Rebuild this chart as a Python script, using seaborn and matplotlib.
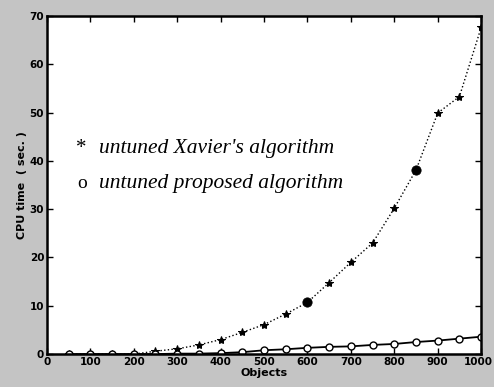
import numpy as np
import pandas as pd
import matplotlib.pyplot as plt
import matplotlib.transforms as mtransforms
import seaborn as sns

# data
objects = [50, 100, 150, 200, 250, 300, 350, 400, 450, 500,
           550, 600, 650, 700, 750, 800, 850, 900, 950, 1000]
xavier = [0.0, 0.0, 0.0, 0.0, 0.6, 1.1, 1.9, 3.0, 4.5, 6.1,
          8.3, 10.7, 14.8, 19.0, 23.0, 30.2, 38.1, 49.9, 53.3, 67.6]
proposed = [0.0, 0.0, 0.0, 0.0, 0.0, 0.1, 0.1, 0.2, 0.4, 0.8,
            1.0, 1.3, 1.5, 1.6, 1.9, 2.1, 2.5, 2.8, 3.2, 3.6]
# points printed as big filled dots in the scan
dot_objects = [600, 850]
xticks = [0, 100, 200, 300, 400, 500, 600, 700, 800, 900, 1000]
yticks = [0, 10, 20, 30, 40, 50, 60, 70]

sns.set_theme(style='ticks')
plt.rcParams['font.family'] = ['DejaVu Sans']

df = pd.DataFrame({'objects': objects, 'xavier': xavier, 'proposed': proposed})
dots = df[df['objects'].isin(dot_objects)]

fig = plt.figure(figsize=(4.94, 3.87), dpi=100, facecolor='#c4c4c4')
ax = fig.add_axes([0.095, 0.085, 0.879, 0.874])
ax.set_facecolor('white')

sns.lineplot(data=df, x='objects', y='xavier', ax=ax, color='black',
             linestyle=':', linewidth=1.0, marker='*', markersize=6,
             markerfacecolor='black', markeredgecolor='black')
sns.scatterplot(data=dots, x='objects', y='xavier', ax=ax, color='black',
                s=45, marker='o', edgecolor='black', zorder=4)
sns.lineplot(data=df, x='objects', y='proposed', ax=ax, color='black',
             linestyle='-', linewidth=1.3, marker='o', markersize=5,
             markerfacecolor='white', markeredgecolor='black',
             markeredgewidth=1.0)

ax.set_xlim(0, 1000)
ax.set_ylim(0, 70)
ax.set_xticks(xticks)
ax.set_yticks(yticks)
ax.tick_params(direction='in', top=True, right=True, length=4, width=1,
               labelsize=7.5, pad=2, colors='black')
for lab in ax.get_xticklabels() + ax.get_yticklabels():
    lab.set_fontweight('bold')
# keep the last x label inside the figure
last = ax.get_xticklabels()[-1]
last.set_transform(last.get_transform() +
                   mtransforms.ScaledTranslation(-3 / 100, 0, fig.dpi_scale_trans))
for sp in ax.spines.values():
    sp.set_linewidth(1.8)
    sp.set_color('black')
    sp.set_visible(True)

ax.set_xlabel('Objects', fontsize=8, fontweight='bold', labelpad=1, color='black')
ax.set_ylabel('CPU time  ( sec. )', fontsize=8, fontweight='bold', labelpad=2,
              color='black')

# text legend in italic serif
serif = ['Liberation Serif', 'DejaVu Serif']
ax.text(80, 42.6, '*', fontsize=15, family=serif, ha='center', va='center',
        color='black')
ax.text(120, 42.6, "untuned Xavier's algorithm", fontsize=15.5, style='italic',
        family=serif, va='center', color='black')
ax.text(80, 35.4, 'o', fontsize=14, family=serif, ha='center', va='center',
        color='black')
ax.text(120, 35.4, 'untuned proposed algorithm', fontsize=15.5, style='italic',
        family=serif, va='center', color='black')

fig.savefig('out.png', dpi=100, facecolor=fig.get_facecolor())
